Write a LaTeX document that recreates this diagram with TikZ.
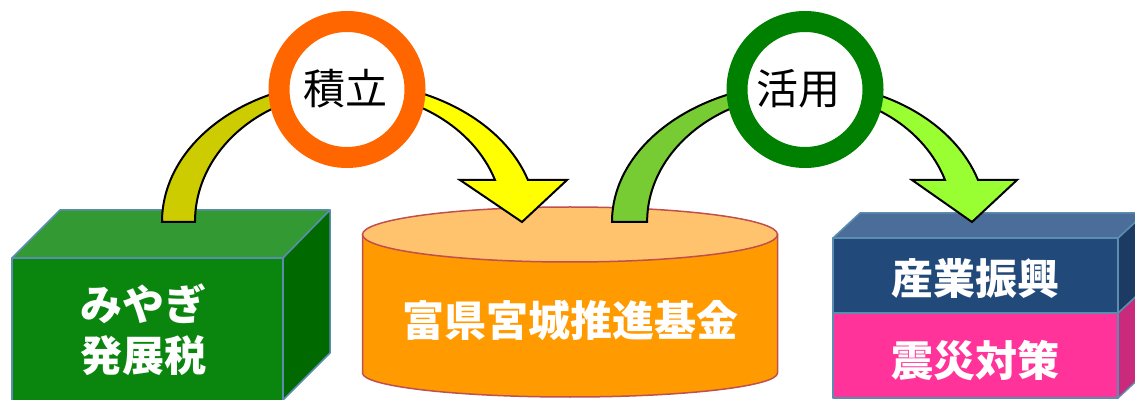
\documentclass[tikz,border=0pt]{standalone}
\usepackage{fontspec}
\newfontfamily\cjk{Noto Sans CJK JP}
\definecolor{gfront}{HTML}{0A850E}
\definecolor{gtop}{HTML}{339933}
\definecolor{gside}{HTML}{006A00}
\definecolor{boxline}{HTML}{5B8DB0}
\definecolor{cyltop}{HTML}{FFC36E}
\definecolor{cylside}{HTML}{FF9A00}
\definecolor{cylline}{HTML}{C0504D}
\definecolor{bfront}{HTML}{21497A}
\definecolor{btop}{HTML}{4B6D99}
\definecolor{bside}{HTML}{1B3B62}
\definecolor{pfront}{HTML}{FF3399}
\definecolor{pside}{HTML}{C92A7C}
\definecolor{yeldark}{HTML}{CCCC00}
\definecolor{yelbright}{HTML}{FFFF00}
\definecolor{limedark}{HTML}{77CC33}
\definecolor{limebright}{HTML}{99FF33}
\definecolor{ringorange}{HTML}{FF6600}
\definecolor{ringgreen}{HTML}{008000}
\tikzset{
  boxedge/.style={draw=boxline, line width=1.5pt, line join=round},
  cyledge/.style={draw=cylline, line width=1.5pt},
  arrowedge/.style={draw=black, line width=2pt, line join=miter},
  ring/.style={circle, line width=21pt, fill=white, minimum size=136pt, inner sep=0pt},
  boxtext/.style={text=white, font=\cjk\bfseries\fontsize{42}{42}\selectfont, inner sep=0pt},
  ringtext/.style={text=black, font=\cjk\fontsize{42}{42}\selectfont, inner sep=0pt}
}
\begin{document}
\begin{tikzpicture}[x=1pt,y=1pt]
\useasboundingbox (0,0) rectangle (1135,399);
\clip (0,0) rectangle (1135,399);

% ---- left box (green)
\filldraw[boxedge, fill=gfront] (12,-2) rectangle (283,141);
\filldraw[boxedge, fill=gtop] (12,141) -- (60,189) -- (330,189) -- (283,141) -- cycle;
\filldraw[boxedge, fill=gside] (283,141) -- (330,189) -- (330,46) -- (283,-1) -- cycle;
\node[boxtext] (tax1) at (143,95) {みやぎ};
\node[boxtext] (tax2) at (143,43) {発展税};

% ---- cylinder (orange)
\filldraw[cyledge, fill=cylside] (362.5,164.5) -- (362.5,26)
  arc[start angle=180, end angle=360, x radius=207.5pt, y radius=24pt]
  -- (777.5,164.5) -- cycle;
\filldraw[cyledge, fill=cyltop] (570,164.5) ellipse[x radius=207.5pt, y radius=27.5pt];
\node[boxtext] (fund) at (570,79) {富県宮城推進基金};

% ---- right box (blue / pink)
\filldraw[boxedge, fill=pfront] (833,1) rectangle (1118,86);
\filldraw[boxedge, fill=pside] (1118,86) -- (1145,111) -- (1145,26) -- (1118,1) -- cycle;
\filldraw[boxedge, fill=bfront] (833,86) rectangle (1118,161);
\filldraw[boxedge, fill=bside] (1118,161) -- (1145,186) -- (1145,111) -- (1118,86) -- cycle;
\filldraw[boxedge, fill=btop] (833,161) -- (860,186) -- (1145,186) -- (1118,161) -- cycle;
\node[boxtext] (ind) at (975,120) {産業振興};
\node[boxtext] (dis) at (975,39) {震災対策};

% ---- arrow A (積立)
\coordinate (tailA) at (162,177);
\coordinate (tipA) at (522,177);
\path[save path=\pathA] (tailA)
  arc[start angle=180, end angle=90, x radius=185pt, y radius=140pt]
  arc[start angle=90, end angle=17.46, x radius=189.7pt, y radius=140pt]
  -- (567,219) -- (tipA) -- (460,219) -- (495,219)
  arc[start angle=18.85, end angle=90, x radius=156.4pt, y radius=130pt]
  arc[start angle=90, end angle=180, x radius=152pt, y radius=130pt]
  -- cycle;
\fill[yeldark, use path=\pathA];
\begin{scope}
  \clip (347,0) rectangle (1135,399);
  \fill[yelbright, use path=\pathA];
\end{scope}
\draw[arrowedge, use path=\pathA];

% ---- arrow B (活用)
\coordinate (tailB) at (612,177);
\coordinate (tipB) at (972,177);
\path[save path=\pathB] (tailB)
  arc[start angle=180, end angle=90, x radius=193pt, y radius=139pt]
  arc[start angle=90, end angle=17.59, x radius=181.5pt, y radius=139pt]
  -- (1017,219) -- (tipB) -- (912,219) -- (945,219)
  arc[start angle=19.07, end angle=90, x radius=148pt, y radius=128.5pt]
  arc[start angle=90, end angle=180, x radius=158pt, y radius=128.5pt]
  -- cycle;
\fill[limedark, use path=\pathB];
\begin{scope}
  \clip (805,0) rectangle (1135,399);
  \fill[limebright, use path=\pathB];
\end{scope}
\draw[arrowedge, use path=\pathB];

% ---- rings
\node[ring, draw=ringorange] (ringA) at (347,309.5) {};
\node[ringtext] (save) at (345,310) {積立};
\node[ring, draw=ringgreen] (ringB) at (805,309.5) {};
\node[ringtext] (use) at (798,310) {活用};
\end{tikzpicture}
\end{document}
